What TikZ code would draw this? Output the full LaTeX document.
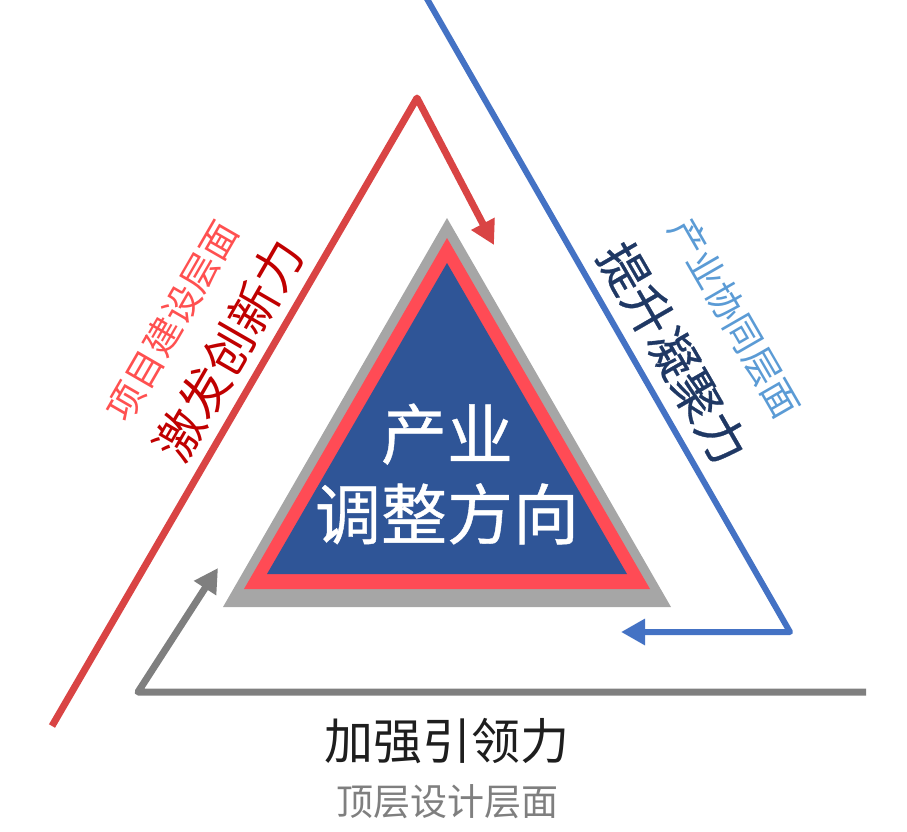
\documentclass[tikz,border=0pt]{standalone}
\usepackage{fontspec}
\setmainfont{Noto Sans CJK SC}
\newfontfamily\cjkheavy[FakeBold=0.6]{Noto Sans CJK SC}
\usetikzlibrary{arrows.meta}
\definecolor{redline}{RGB}{217,68,68}
\definecolor{blueline}{RGB}{68,114,196}
\definecolor{grayline}{RGB}{127,127,127}
\definecolor{trigray}{RGB}{166,166,166}
\definecolor{trired}{RGB}{255,75,85}
\definecolor{triblue}{RGB}{47,85,151}
\definecolor{darkred}{RGB}{192,0,0}
\definecolor{lightred}{RGB}{255,80,80}
\definecolor{navy}{RGB}{31,56,100}
\definecolor{lightblue}{RGB}{91,155,213}
\definecolor{darktext}{RGB}{30,30,30}
\definecolor{graytext}{RGB}{127,127,127}
\tikzset{
  flowline/.style={line width=7pt, line join=round,
    -{Triangle[width=25pt,length=24pt]}},
  bigtext/.style={inner sep=0pt, font=\fontsize{49}{49}\selectfont},
  smalltext/.style={inner sep=0pt, font=\fontsize{37}{37}\selectfont},
}
\begin{document}
\begin{tikzpicture}[x=1pt,y=-1pt]
\useasboundingbox (0,0) rectangle (907,832);
% triangles
\fill[trigray] (447,218) -- (223,607) -- (671,607) -- cycle;
\fill[trired] (447,238) -- (244,589) -- (650,589) -- cycle;
\fill[triblue] (447,263) -- (267,574) -- (627,574) -- cycle;
% connector coordinates
\coordinate (r1) at (52,726);
\coordinate (r2) at (417,98);
\coordinate (r3) at (494,245);
\coordinate (b1) at (426.5,-2);
\coordinate (b2) at (790,632);
\coordinate (b3) at (621,632);
\coordinate (g1) at (866,692);
\coordinate (g2) at (138,692);
\coordinate (g3) at (218,568);
\draw[flowline, redline] (r1) -- (r2) -- (r3);
\draw[flowline, blueline, line width=6pt] (b1) -- (b2) -- (b3);
\draw[flowline, grayline] (g1) -- (g2) -- (g3);
% center text
\node[inner sep=0pt, text=white, align=center,
  font=\cjkheavy\fontsize{66}{80}\selectfont] (center) at (447,474) {产业\\调整方向};
% left texts
\node[bigtext, text=darkred, rotate=60] (leftbig) at (229,350) {激发创新力};
\node[smalltext, text=lightred, rotate=60] (leftsmall) at (172,321) {项目建设层面};
% right texts
\node[bigtext, text=navy, rotate=-60, font=\cjkheavy\fontsize{49}{49}\selectfont] (rightbig) at (673,353) {提升凝聚力};
\node[smalltext, text=lightblue, rotate=-60] (rightsmall) at (735,318) {产业协同层面};
% bottom texts
\node[bigtext, text=darktext] (bottombig) at (447,741) {加强引领力};
\node[smalltext, text=graytext] (bottomsmall) at (447,802) {顶层设计层面};
\end{tikzpicture}
\end{document}
